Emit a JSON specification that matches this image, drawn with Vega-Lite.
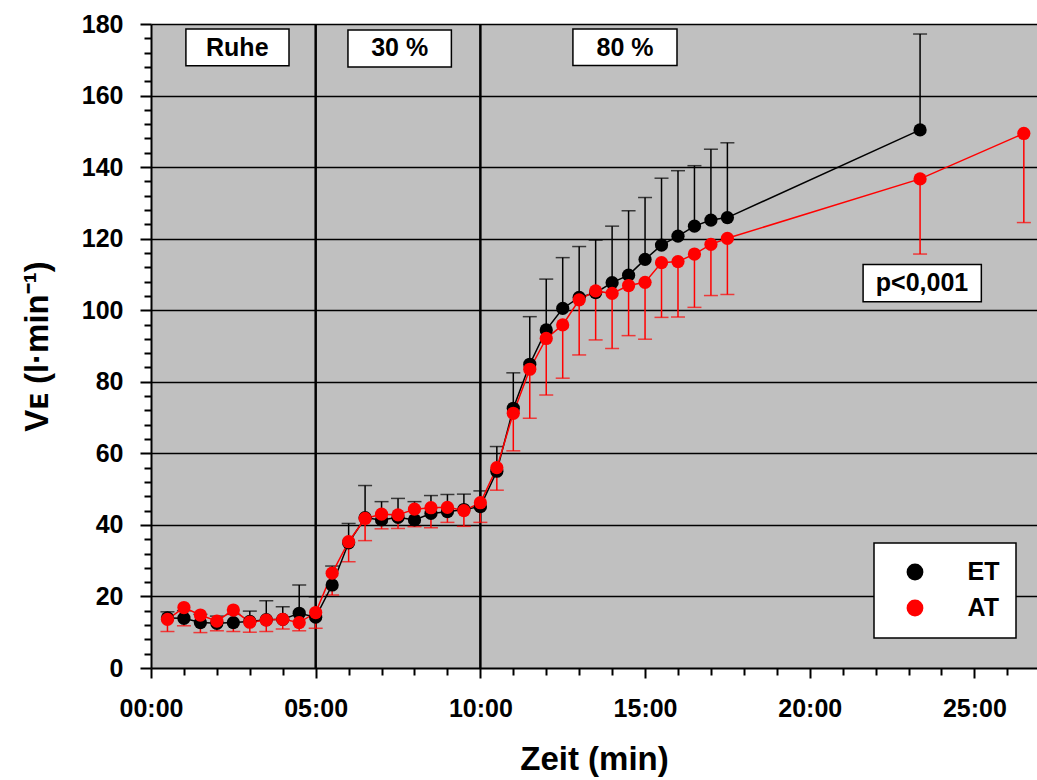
{
  "$schema": "https://vega.github.io/schema/vega-lite/v6.json",
  "width": 886,
  "height": 644,
  "autosize": {"type": "none"},
  "padding": {"left": 151, "top": 24, "right": 0, "bottom": 112},
  "background": "white",
  "config": {
    "font": "Liberation Sans",
    "view": {"fill": "#c0c0c0", "stroke": null},
    "legend": {
      "orient": "none", "legendX": 723, "legendY": 519,
      "fillColor": "white", "strokeColor": "black", "strokeWidth": 1.5,
      "padding": 16.5, "rowPadding": 10, "symbolOffset": 12, "labelOffset": 40,
      "labelFont": "Liberation Sans", "labelFontSize": 25, "labelFontWeight": "bold", "labelColor": "black",
      "symbolSize": 283, "symbolType": "circle", "symbolStrokeWidth": 0
    }
  },
  "datasets": {
    "series": [
      {"t": 0.5, "g": "ET", "v": 14.0, "b": 15.7},
      {"t": 1.0, "g": "ET", "v": 13.9, "b": 16.0},
      {"t": 1.5, "g": "ET", "v": 12.7, "b": 15.0},
      {"t": 2.0, "g": "ET", "v": 12.5, "b": 14.5},
      {"t": 2.5, "g": "ET", "v": 12.7, "b": 15.0},
      {"t": 3.0, "g": "ET", "v": 13.0, "b": 15.9},
      {"t": 3.5, "g": "ET", "v": 13.5, "b": 18.8},
      {"t": 4.0, "g": "ET", "v": 13.6, "b": 17.1},
      {"t": 4.5, "g": "ET", "v": 15.3, "b": 23.2},
      {"t": 5.0, "g": "ET", "v": 14.2, "b": 19.9},
      {"t": 5.5, "g": "ET", "v": 23.2, "b": 28.5},
      {"t": 6.0, "g": "ET", "v": 35.0, "b": 40.4},
      {"t": 6.5, "g": "ET", "v": 42.0, "b": 51.0},
      {"t": 7.0, "g": "ET", "v": 41.4, "b": 46.5},
      {"t": 7.5, "g": "ET", "v": 42.1, "b": 47.4},
      {"t": 8.0, "g": "ET", "v": 41.4, "b": 46.5},
      {"t": 8.5, "g": "ET", "v": 43.2, "b": 48.2},
      {"t": 9.0, "g": "ET", "v": 43.7, "b": 48.5},
      {"t": 9.5, "g": "ET", "v": 44.3, "b": 48.6},
      {"t": 10.0, "g": "ET", "v": 45.1, "b": 49.5},
      {"t": 10.5, "g": "ET", "v": 55.0, "b": 61.9},
      {"t": 11.0, "g": "ET", "v": 72.6, "b": 82.5},
      {"t": 11.5, "g": "ET", "v": 84.9, "b": 98.2},
      {"t": 12.0, "g": "ET", "v": 94.5, "b": 108.7},
      {"t": 12.5, "g": "ET", "v": 100.5, "b": 114.7},
      {"t": 13.0, "g": "ET", "v": 103.6, "b": 117.8},
      {"t": 13.5, "g": "ET", "v": 104.9, "b": 119.6},
      {"t": 14.0, "g": "ET", "v": 107.7, "b": 123.5},
      {"t": 14.5, "g": "ET", "v": 109.8, "b": 127.8},
      {"t": 15.0, "g": "ET", "v": 114.2, "b": 131.5},
      {"t": 15.5, "g": "ET", "v": 118.2, "b": 136.9},
      {"t": 16.0, "g": "ET", "v": 120.7, "b": 139.0},
      {"t": 16.5, "g": "ET", "v": 123.5, "b": 140.4},
      {"t": 17.0, "g": "ET", "v": 125.2, "b": 145.0},
      {"t": 17.5, "g": "ET", "v": 125.9, "b": 146.8},
      {"t": 23.35, "g": "ET", "v": 150.4, "b": 177.2},
      {"t": 0.5, "g": "AT", "v": 13.6, "b": 10.2},
      {"t": 1.0, "g": "AT", "v": 16.9, "b": 11.8},
      {"t": 1.5, "g": "AT", "v": 14.8, "b": 9.9},
      {"t": 2.0, "g": "AT", "v": 13.1, "b": 10.4},
      {"t": 2.5, "g": "AT", "v": 16.2, "b": 10.2},
      {"t": 3.0, "g": "AT", "v": 12.8, "b": 10.0},
      {"t": 3.5, "g": "AT", "v": 13.4, "b": 10.2},
      {"t": 4.0, "g": "AT", "v": 13.6, "b": 10.9},
      {"t": 4.5, "g": "AT", "v": 12.7, "b": 10.4},
      {"t": 5.0, "g": "AT", "v": 15.5, "b": 11.1},
      {"t": 5.5, "g": "AT", "v": 26.5, "b": 20.4},
      {"t": 6.0, "g": "AT", "v": 35.3, "b": 29.7},
      {"t": 6.5, "g": "AT", "v": 41.8, "b": 35.6},
      {"t": 7.0, "g": "AT", "v": 43.0, "b": 38.9},
      {"t": 7.5, "g": "AT", "v": 42.8, "b": 39.0},
      {"t": 8.0, "g": "AT", "v": 44.4, "b": 39.5},
      {"t": 8.5, "g": "AT", "v": 44.8, "b": 39.2},
      {"t": 9.0, "g": "AT", "v": 44.9, "b": 40.7},
      {"t": 9.5, "g": "AT", "v": 44.0, "b": 39.6},
      {"t": 10.0, "g": "AT", "v": 46.2, "b": 40.7},
      {"t": 10.5, "g": "AT", "v": 56.0, "b": 49.7},
      {"t": 11.0, "g": "AT", "v": 71.2, "b": 60.7},
      {"t": 11.5, "g": "AT", "v": 83.5, "b": 69.8},
      {"t": 12.0, "g": "AT", "v": 92.1, "b": 76.3},
      {"t": 12.5, "g": "AT", "v": 95.9, "b": 81.0},
      {"t": 13.0, "g": "AT", "v": 102.9, "b": 87.5},
      {"t": 13.5, "g": "AT", "v": 105.4, "b": 91.7},
      {"t": 14.0, "g": "AT", "v": 104.7, "b": 89.3},
      {"t": 14.5, "g": "AT", "v": 106.9, "b": 92.9},
      {"t": 15.0, "g": "AT", "v": 107.8, "b": 91.9},
      {"t": 15.5, "g": "AT", "v": 113.3, "b": 98.0},
      {"t": 16.0, "g": "AT", "v": 113.6, "b": 98.1},
      {"t": 16.5, "g": "AT", "v": 115.7, "b": 100.8},
      {"t": 17.0, "g": "AT", "v": 118.4, "b": 104.1},
      {"t": 17.5, "g": "AT", "v": 120.1, "b": 104.4},
      {"t": 23.35, "g": "AT", "v": 136.7, "b": 115.7},
      {"t": 26.5, "g": "AT", "v": 149.4, "b": 124.5}
    ],
    "boxes": [
      {"label": "Ruhe", "x1": 1.06, "x2": 4.19, "y1": 178.6, "y2": 168.3, "xc": 2.62, "yc": 173.4},
      {"label": "30 %", "x1": 5.98, "x2": 9.12, "y1": 178.3, "y2": 168.0, "xc": 7.55, "yc": 173.2},
      {"label": "80 %", "x1": 12.81, "x2": 15.97, "y1": 178.6, "y2": 168.4, "xc": 14.39, "yc": 173.4},
      {"label": "p<0,001", "x1": 21.62, "x2": 25.21, "y1": 112.8, "y2": 102.4, "xc": 23.41, "yc": 107.6}
    ],
    "phases": [{"t": 5}, {"t": 10}]
  },
  "layer": [
    {
      "data": {"name": "phases"},
      "mark": {"type": "rule", "color": "black", "strokeWidth": 2.5},
      "encoding": {
        "x": {
          "field": "t", "type": "quantitative",
          "scale": {"domain": [0, 26.9], "nice": false, "zero": false},
          "axis": {
            "values": [0,1,2,3,4,5,6,7,8,9,10,11,12,13,14,15,16,17,18,19,20,21,22,23,24,25,26],
            "tickCount": 100,
            "labelExpr": "datum.value % 5 === 0 ? ((datum.value < 10 ? '0' : '') + datum.value + ':00') : ''",
            "grid": false,
            "domainColor": "black", "domainWidth": 2,
            "tickColor": "black", "tickWidth": 2,
            "tickSize": {"condition": {"test": "datum.value % 5 === 0", "value": 10}, "value": 7},
            "labelFontSize": 25, "labelFontWeight": "bold", "labelColor": "black", "labelFont": "Liberation Sans",
            "labelPadding": 18, "labelDx": 7, "labelOverlap": false, "labelFlush": false,
            "title": "Zeit (min)", "titleFontSize": 33, "titleFontWeight": "bold", "titleColor": "black",
            "titleFont": "Liberation Sans", "titlePadding": 22
          }
        }
      }
    },
    {
      "data": {"name": "series"},
      "transform": [{"filter": "datum.g === 'ET'"}],
      "mark": {"type": "rule", "strokeWidth": 1.5, "color": "#000000"},
      "encoding": {
        "x": {"field": "t", "type": "quantitative"},
        "y": {
          "field": "v", "type": "quantitative",
          "scale": {"domain": [0, 180], "nice": false},
          "axis": {
            "values": [0,4,8,12,16,20,24,28,32,36,40,44,48,52,56,60,64,68,72,76,80,84,88,92,96,100,104,108,112,116,120,124,128,132,136,140,144,148,152,156,160,164,168,172,176,180],
            "tickCount": 100,
            "labelExpr": "datum.value % 20 === 0 ? datum.value : ''",
            "grid": true,
            "gridColor": {"condition": {"test": "datum.value % 20 === 0 && datum.value > 0", "value": "black"}, "value": "transparent"},
            "gridWidth": 1.5, "gridOpacity": 1,
            "domainColor": "black", "domainWidth": 2,
            "tickColor": "black", "tickWidth": 2,
            "tickSize": {"condition": {"test": "datum.value % 20 === 0", "value": 11}, "value": 7},
            "labelFontSize": 25, "labelFontWeight": "bold", "labelColor": "black", "labelFont": "Liberation Sans",
            "labelPadding": 17, "labelOverlap": false, "labelFlush": false,
            "title": "Vᴇ (l·min⁻¹)", "titleFontSize": 33, "titleFontWeight": "bold", "titleColor": "black",
            "titleFont": "Liberation Sans", "titlePadding": 27
          }
        },
        "y2": {"field": "b"}
      }
    },
    {
      "data": {"name": "series"},
      "transform": [{"filter": "datum.g === 'ET'"}],
      "mark": {"type": "tick", "orient": "horizontal", "size": 14, "thickness": 1.5, "color": "#000000"},
      "encoding": {
        "x": {"field": "t", "type": "quantitative"},
        "y": {"field": "b", "type": "quantitative"}
      }
    },
    {
      "data": {"name": "series"},
      "transform": [{"filter": "datum.g === 'AT'"}],
      "mark": {"type": "rule", "strokeWidth": 1.5, "color": "#ff0000"},
      "encoding": {
        "x": {"field": "t", "type": "quantitative"},
        "y": {"field": "v", "type": "quantitative"},
        "y2": {"field": "b"}
      }
    },
    {
      "data": {"name": "series"},
      "transform": [{"filter": "datum.g === 'AT'"}],
      "mark": {"type": "tick", "orient": "horizontal", "size": 14, "thickness": 1.5, "color": "#ff0000"},
      "encoding": {
        "x": {"field": "t", "type": "quantitative"},
        "y": {"field": "b", "type": "quantitative"}
      }
    },
    {
      "data": {"name": "series"},
      "transform": [{"filter": "datum.g === 'ET'"}],
      "mark": {"type": "line", "strokeWidth": 1.5, "color": "#000000"},
      "encoding": {
        "x": {"field": "t", "type": "quantitative"},
        "y": {"field": "v", "type": "quantitative"}
      }
    },
    {
      "data": {"name": "series"},
      "transform": [{"filter": "datum.g === 'AT'"}],
      "mark": {"type": "line", "strokeWidth": 1.5, "color": "#ff0000"},
      "encoding": {
        "x": {"field": "t", "type": "quantitative"},
        "y": {"field": "v", "type": "quantitative"}
      }
    },
    {
      "data": {"name": "series"},
      "mark": {"type": "point", "filled": true, "size": 175, "opacity": 1, "strokeWidth": 0},
      "encoding": {
        "x": {"field": "t", "type": "quantitative"},
        "y": {"field": "v", "type": "quantitative"},
        "color": {"field": "g", "type": "nominal", "scale": {"domain": ["ET", "AT"], "range": ["#000000", "#ff0000"]}, "legend": {"title": null}}
      }
    },
    {
      "data": {"name": "boxes"},
      "mark": {"type": "rect", "fill": "white", "stroke": "black", "strokeWidth": 1.5},
      "encoding": {
        "x": {"field": "x1", "type": "quantitative"},
        "x2": {"field": "x2"},
        "y": {"field": "y1", "type": "quantitative"},
        "y2": {"field": "y2"}
      }
    },
    {
      "data": {"name": "boxes"},
      "mark": {"type": "text", "font": "Liberation Sans", "fontSize": 25, "fontWeight": "bold", "color": "black", "align": "center", "baseline": "middle"},
      "encoding": {
        "x": {"field": "xc", "type": "quantitative"},
        "y": {"field": "yc", "type": "quantitative"},
        "text": {"field": "label"}
      }
    }
  ]
}
